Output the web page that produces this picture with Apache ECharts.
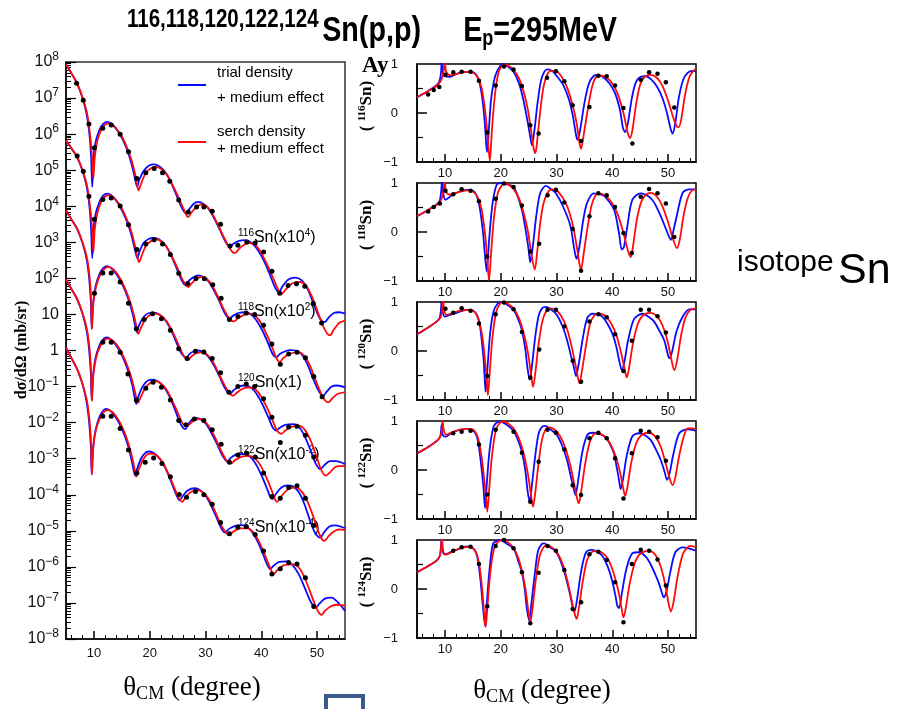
<!DOCTYPE html>
<html>
<head>
<meta charset="utf-8">
<script src="https://cdn.jsdelivr.net/npm/echarts@6/dist/echarts.min.js"></script>
<style>
  html, body { margin: 0; padding: 0; background: #fff; }
  #chart { width: 904px; height: 709px; }
</style>
</head>
<body>
<div id="chart"></div>
<script>
// Sn(p,p) at Ep = 295 MeV : cross sections (left) and analysing powers (right)

const isotopes = ['116', '118', '120', '122', '124'];
const scaleExps = [4, 2, 0, -2, -4]; // plotted as sigma x 10^n

// dσ/dΩ, stored as log10(mb/sr), pairs [theta_cm, log10 sigma]
const xs116Trial = [[5.0,3.94],[6.0,3.68],[7.0,3.40],[8.0,2.98],[8.7,2.55],[9.2,2.0],[9.5,1.35],[9.7,0.54],[9.9,1.3],[10.3,1.78],[11.0,2.12],[11.7,2.29],[12.4,2.34],[13.2,2.28],[14.0,2.14],[14.8,1.95],[15.6,1.7],[16.4,1.36],[17.0,1.02],[17.45,0.7],[17.75,0.54],[18.1,0.72],[18.9,0.98],[19.9,1.13],[20.8,1.16],[21.7,1.11],[22.6,0.98],[23.5,0.76],[24.5,0.42],[25.4,0.08],[26.1,-0.14],[26.6,-0.2],[27.1,-0.08],[27.9,0.07],[28.7,0.12],[29.6,0.07],[30.5,-0.06],[31.5,-0.32],[32.5,-0.63],[33.4,-0.93],[34.0,-1.08],[34.4,-1.13],[35.0,-1.04],[36.0,-0.96],[37.1,-0.94],[38.3,-1.02],[39.4,-1.22],[40.5,-1.52],[41.5,-1.88],[42.3,-2.2],[42.8,-2.34],[43.2,-2.38],[43.8,-2.22],[44.8,-2.04],[46.0,-1.98],[47.2,-2.05],[48.3,-2.3],[49.3,-2.68],[50.3,-3.05],[50.9,-3.19],[51.4,-3.21],[52.0,-3.1],[53.0,-2.96],[54.0,-2.94],[55.0,-2.98]];
const xs116Search = [[5.0,3.94],[6.0,3.68],[7.0,3.41],[8.0,3.0],[8.8,2.55],[9.3,2.0],[9.65,1.4],[9.9,0.77],[10.15,1.35],[10.6,1.8],[11.3,2.12],[12.0,2.26],[12.8,2.30],[13.6,2.23],[14.4,2.08],[15.2,1.88],[16.0,1.6],[16.8,1.25],[17.4,0.88],[17.8,0.55],[18.0,0.44],[18.4,0.6],[19.3,0.92],[20.3,1.06],[21.2,1.09],[22.0,1.04],[23.0,0.9],[24.0,0.62],[25.0,0.3],[26.0,-0.05],[26.6,-0.25],[26.9,-0.3],[27.4,-0.19],[28.3,-0.03],[29.3,0.05],[30.2,0.0],[31.2,-0.2],[32.2,-0.5],[33.2,-0.83],[34.2,-1.13],[34.9,-1.28],[35.3,-1.3],[36.0,-1.18],[37.0,-1.06],[38.0,-1.02],[39.0,-1.08],[40.0,-1.3],[41.0,-1.6],[42.0,-1.95],[43.0,-2.3],[43.6,-2.44],[44.3,-2.32],[45.5,-2.14],[46.9,-2.1],[48.0,-2.2],[49.0,-2.48],[50.0,-2.88],[51.0,-3.3],[51.8,-3.53],[52.3,-3.58],[53.0,-3.42],[54.0,-3.23],[55.0,-3.17]];
const xs116Data = [[6.9,3.41],[8.1,2.94],[9.1,2.28],[10.1,1.62],[11.6,2.16],[13.1,2.25],[14.7,2.0],[16.2,1.51],[17.7,0.77],[19.3,0.93],[20.8,1.05],[22.3,0.93],[23.6,0.69],[25.2,0.17],[26.9,-0.16],[28.4,-0.02],[29.7,-0.02],[31.2,-0.14],[32.7,-0.5],[34.4,-1.1],[35.8,-1.08],[37.4,-0.99],[38.9,-1.02],[40.4,-1.27],[41.9,-1.8],[43.3,-2.41],[44.8,-2.2],[46.3,-2.15],[47.8,-2.22],[49.3,-2.7],[50.8,-3.24]];

const xs118Trial = [[5.0,3.83],[6.0,3.6],[7.0,3.36],[8.0,2.96],[8.7,2.55],[9.2,2.0],[9.5,1.35],[9.7,0.56],[9.9,1.3],[10.3,1.78],[11.0,2.12],[11.7,2.3],[12.4,2.35],[13.2,2.29],[14.0,2.15],[14.8,1.95],[15.6,1.7],[16.4,1.37],[17.0,1.03],[17.5,0.7],[17.8,0.55],[18.15,0.73],[18.9,0.98],[19.9,1.1],[20.8,1.12],[21.7,1.08],[22.6,0.96],[23.5,0.74],[24.5,0.4],[25.4,0.06],[26.0,-0.13],[26.5,-0.19],[27.0,-0.07],[27.9,0.04],[28.7,0.08],[29.6,0.04],[30.5,-0.08],[31.5,-0.33],[32.5,-0.64],[33.3,-0.92],[33.9,-1.07],[34.3,-1.12],[34.9,-1.04],[35.9,-0.96],[37.1,-0.94],[38.3,-1.02],[39.3,-1.2],[40.3,-1.48],[41.3,-1.83],[42.1,-2.12],[42.7,-2.19],[43.3,-2.1],[44.3,-2.02],[45.2,-1.99],[46.1,-2.0],[47.2,-2.1],[48.2,-2.36],[49.2,-2.75],[50.2,-3.1],[50.7,-3.22],[51.1,-3.25],[51.7,-3.15],[52.6,-3.0],[53.6,-2.97],[55.0,-3.02]];
const xs118Search = [[5.0,3.83],[6.0,3.6],[7.0,3.37],[8.0,2.98],[8.8,2.55],[9.3,2.0],[9.65,1.45],[9.9,0.73],[10.15,1.35],[10.6,1.8],[11.3,2.12],[12.0,2.27],[12.8,2.31],[13.6,2.24],[14.4,2.09],[15.2,1.88],[16.0,1.6],[16.8,1.25],[17.4,0.88],[17.85,0.55],[18.1,0.45],[18.5,0.6],[19.3,0.9],[20.3,1.04],[21.2,1.08],[22.0,1.03],[23.0,0.88],[24.0,0.6],[25.0,0.28],[26.0,-0.07],[26.6,-0.2],[26.9,-0.24],[27.5,-0.14],[28.4,-0.01],[29.3,0.04],[30.2,-0.01],[31.2,-0.2],[32.2,-0.5],[33.2,-0.83],[34.2,-1.1],[34.8,-1.18],[35.1,-1.19],[35.8,-1.11],[36.9,-1.01],[38.0,-0.98],[39.0,-1.05],[40.0,-1.25],[41.0,-1.57],[42.0,-1.93],[42.8,-2.24],[43.3,-2.32],[43.9,-2.22],[45.0,-2.09],[46.8,-2.05],[47.8,-2.17],[48.8,-2.45],[49.8,-2.85],[50.8,-3.22],[51.5,-3.4],[52.0,-3.44],[52.7,-3.33],[53.7,-3.2],[55.0,-3.16]];
const xs118Data = [[7.0,3.39],[8.1,2.97],[9.1,2.28],[10.1,1.64],[11.6,2.19],[13.1,2.23],[14.7,2.01],[16.2,1.49],[17.7,0.8],[19.3,0.95],[20.8,1.07],[22.3,0.95],[23.7,0.66],[25.2,0.14],[26.8,-0.14],[28.3,0.0],[29.8,-0.01],[31.3,-0.18],[32.8,-0.55],[34.3,-1.14],[35.8,-1.06],[37.3,-0.96],[38.8,-1.0],[40.4,-1.3],[41.9,-1.82],[43.4,-2.38],[44.9,-2.1],[46.4,-2.05],[47.9,-2.2],[49.4,-2.72],[50.9,-3.28]];

const xs120Trial = [[5.0,3.89],[6.0,3.63],[7.0,3.37],[8.0,2.96],[8.7,2.53],[9.15,2.0],[9.45,1.35],[9.6,0.6],[9.85,1.3],[10.3,1.78],[11.0,2.12],[11.7,2.29],[12.4,2.34],[13.2,2.27],[14.0,2.12],[14.8,1.92],[15.6,1.66],[16.4,1.32],[17.0,0.98],[17.4,0.68],[17.7,0.51],[18.05,0.68],[18.9,0.93],[19.9,1.04],[20.8,1.05],[21.7,1.0],[22.6,0.88],[23.5,0.66],[24.5,0.33],[25.4,0.0],[26.1,-0.16],[26.6,-0.19],[27.1,-0.1],[27.9,-0.02],[28.7,0.0],[29.6,-0.05],[30.5,-0.17],[31.5,-0.41],[32.5,-0.72],[33.4,-1.02],[34.0,-1.16],[34.4,-1.2],[35.0,-1.11],[36.0,-1.0],[37.1,-0.97],[38.3,-1.05],[39.3,-1.24],[40.3,-1.52],[41.3,-1.87],[42.1,-2.15],[42.7,-2.22],[43.3,-2.14],[44.3,-2.06],[45.8,-2.04],[46.9,-2.15],[47.9,-2.42],[48.9,-2.8],[49.8,-3.15],[50.6,-3.29],[51.3,-3.18],[52.3,-3.07],[53.4,-3.07],[55.0,-3.15]];
const xs120Search = [[5.0,3.89],[6.0,3.63],[7.0,3.38],[8.0,2.98],[8.8,2.53],[9.25,2.0],[9.5,1.4],[9.65,0.6],[9.9,1.3],[10.4,1.78],[11.2,2.12],[12.0,2.28],[12.7,2.32],[13.5,2.25],[14.3,2.1],[15.1,1.88],[15.9,1.6],[16.7,1.25],[17.3,0.9],[17.75,0.55],[17.95,0.46],[18.35,0.6],[19.2,0.86],[20.2,1.0],[21.1,1.02],[22.0,0.97],[23.0,0.82],[24.0,0.55],[25.0,0.22],[26.0,-0.12],[26.6,-0.24],[26.9,-0.26],[27.5,-0.16],[28.4,-0.07],[29.3,-0.05],[30.2,-0.1],[31.2,-0.28],[32.2,-0.58],[33.2,-0.9],[34.2,-1.17],[34.7,-1.24],[35.0,-1.25],[35.7,-1.16],[36.8,-1.05],[38.0,-1.02],[39.0,-1.09],[40.0,-1.28],[41.0,-1.58],[42.0,-1.93],[42.9,-2.24],[43.6,-2.31],[44.3,-2.22],[45.5,-2.11],[46.8,-2.09],[47.8,-2.2],[48.8,-2.48],[49.8,-2.9],[50.8,-3.33],[51.6,-3.47],[52.3,-3.38],[53.4,-3.22],[55.0,-3.2]];
const xs120Data = [[10.1,1.59],[11.6,2.15],[13.1,2.15],[14.7,1.9],[16.2,1.31],[17.6,0.6],[19.0,0.86],[20.5,1.02],[22.1,0.88],[23.7,0.56],[25.2,0.05],[26.7,-0.22],[28.2,-0.02],[29.7,-0.04],[31.2,-0.22],[32.7,-0.62],[34.2,-1.16],[35.8,-1.0],[37.3,-0.93],[38.8,-1.0],[40.4,-1.34],[41.9,-1.85],[43.4,-2.55],[44.9,-2.12],[46.4,-2.1],[47.9,-2.35],[49.4,-2.95]];

const xs122Trial = [[5.0,3.97],[6.0,3.7],[7.0,3.42],[8.0,3.0],[8.7,2.55],[9.15,2.0],[9.45,1.35],[9.6,0.63],[9.85,1.3],[10.3,1.8],[11.0,2.14],[11.6,2.3],[12.3,2.36],[13.1,2.3],[13.9,2.16],[14.7,1.96],[15.5,1.7],[16.3,1.36],[16.9,1.02],[17.3,0.7],[17.6,0.52],[17.95,0.72],[18.8,1.02],[19.7,1.17],[20.6,1.19],[21.5,1.14],[22.4,1.02],[23.3,0.8],[24.3,0.45],[25.2,0.08],[25.9,-0.13],[26.4,-0.18],[26.9,-0.05],[27.6,0.09],[28.3,0.13],[29.2,0.09],[30.1,-0.04],[31.1,-0.3],[32.1,-0.6],[33.0,-0.91],[33.6,-1.04],[33.9,-1.08],[34.5,-0.98],[35.6,-0.88],[37.0,-0.87],[38.2,-0.98],[39.2,-1.2],[40.2,-1.52],[41.2,-1.9],[41.6,-2.06],[42.0,-2.12],[42.6,-1.98],[43.6,-1.8],[44.7,-1.74],[45.6,-1.76],[46.7,-1.92],[47.7,-2.25],[48.7,-2.7],[49.6,-3.05],[50.2,-3.17],[50.6,-3.19],[51.2,-3.05],[52.2,-2.88],[53.3,-2.85],[55.0,-2.93]];
const xs122Search = [[5.0,3.97],[6.0,3.7],[7.0,3.43],[8.0,3.02],[8.8,2.55],[9.25,2.0],[9.5,1.4],[9.65,0.6],[9.9,1.3],[10.4,1.8],[11.2,2.14],[12.0,2.3],[12.7,2.33],[13.5,2.26],[14.3,2.12],[15.1,1.9],[15.9,1.62],[16.7,1.26],[17.3,0.9],[17.7,0.62],[17.9,0.55],[18.3,0.68],[19.2,0.96],[20.1,1.1],[21.0,1.15],[21.9,1.1],[22.9,0.94],[23.9,0.66],[24.9,0.32],[25.9,-0.02],[26.4,-0.09],[26.7,-0.1],[27.3,-0.02],[28.1,0.08],[28.9,0.1],[29.8,0.04],[30.8,-0.14],[31.8,-0.44],[32.8,-0.78],[33.8,-1.06],[34.3,-1.12],[34.6,-1.13],[35.3,-1.04],[36.5,-0.94],[37.8,-0.92],[38.9,-1.0],[39.9,-1.2],[40.9,-1.52],[41.9,-1.9],[42.5,-2.14],[42.8,-2.2],[43.4,-2.08],[44.4,-1.9],[45.4,-1.81],[46.3,-1.8],[47.3,-1.92],[48.3,-2.2],[49.3,-2.6],[50.3,-3.05],[50.9,-3.24],[51.3,-3.28],[52.0,-3.16],[53.0,-3.02],[54.0,-2.96],[55.0,-2.98]];
const xs122Data = [[11.6,2.23],[13.1,2.23],[14.7,1.95],[16.1,1.35],[17.6,0.63],[19.3,0.95],[20.6,1.12],[22.1,0.98],[23.7,0.63],[25.2,0.06],[26.5,-0.06],[28.0,0.1],[29.7,0.06],[31.2,-0.2],[32.8,-0.6],[34.3,-1.1],[35.8,-0.9],[37.4,-0.85],[38.9,-0.95],[40.4,-1.4],[41.9,-2.05],[43.4,-2.1],[44.9,-1.8],[46.4,-1.75],[47.9,-2.1],[49.4,-2.85]];

const xs124Trial = [[5.0,4.08],[6.0,3.78],[7.0,3.48],[8.0,3.04],[8.7,2.57],[9.15,2.0],[9.45,1.35],[9.6,0.58],[9.85,1.3],[10.3,1.8],[11.0,2.16],[11.6,2.32],[12.2,2.38],[13.0,2.32],[13.8,2.17],[14.6,1.96],[15.4,1.68],[16.2,1.32],[16.7,1.0],[17.1,0.7],[17.4,0.53],[17.75,0.72],[18.5,1.02],[19.3,1.17],[19.9,1.2],[20.8,1.15],[21.8,1.0],[22.8,0.74],[23.8,0.38],[24.7,0.02],[25.1,-0.11],[25.4,-0.15],[25.9,-0.04],[26.8,0.12],[28.1,0.18],[29.0,0.13],[30.0,-0.02],[31.0,-0.3],[32.0,-0.64],[32.8,-0.92],[33.2,-1.02],[33.5,-1.05],[34.1,-0.96],[35.2,-0.87],[36.2,-0.84],[37.1,-0.86],[38.2,-1.0],[39.2,-1.25],[40.2,-1.6],[41.0,-1.92],[41.6,-2.06],[42.2,-1.97],[43.2,-1.86],[44.5,-1.85],[45.6,-1.95],[46.7,-2.2],[47.7,-2.55],[48.7,-2.92],[49.4,-3.1],[49.8,-3.13],[50.4,-3.02],[51.4,-2.88],[52.6,-2.85],[53.7,-2.98],[55.0,-3.22]];
const xs124Search = [[5.0,4.08],[6.0,3.78],[7.0,3.49],[8.0,3.06],[8.8,2.57],[9.25,2.0],[9.5,1.4],[9.65,0.55],[9.9,1.3],[10.4,1.82],[11.2,2.16],[11.9,2.31],[12.6,2.35],[13.4,2.28],[14.2,2.12],[15.0,1.9],[15.8,1.6],[16.6,1.2],[17.1,0.86],[17.45,0.6],[17.6,0.5],[17.95,0.66],[18.8,0.97],[19.6,1.12],[20.4,1.14],[21.3,1.08],[22.3,0.9],[23.3,0.6],[24.3,0.24],[25.1,-0.06],[25.5,-0.16],[25.8,-0.2],[26.4,-0.08],[27.3,0.07],[28.6,0.13],[29.6,0.06],[30.6,-0.12],[31.6,-0.42],[32.6,-0.78],[33.5,-1.02],[34.0,-1.1],[34.3,-1.11],[35.0,-1.02],[36.3,-0.93],[37.6,-0.93],[38.6,-1.05],[39.6,-1.3],[40.6,-1.65],[41.5,-2.0],[41.9,-2.14],[42.2,-2.2],[42.8,-2.1],[44.0,-1.96],[45.8,-1.93],[46.9,-2.05],[47.9,-2.35],[48.9,-2.75],[49.8,-3.12],[50.4,-3.29],[50.8,-3.33],[51.4,-3.22],[52.4,-3.1],[53.5,-3.05],[55.0,-3.08]];
const xs124Data = [[11.6,2.18],[13.1,2.18],[14.7,1.84],[16.2,1.24],[17.7,0.6],[19.2,0.9],[20.7,1.02],[22.2,0.87],[23.7,0.5],[25.3,0.01],[26.6,-0.07],[28.2,0.09],[29.7,0.0],[31.2,-0.26],[32.7,-0.77],[34.3,-1.08],[35.8,-0.9],[37.3,-0.88],[38.9,-1.1],[40.4,-1.56],[41.9,-2.2],[43.4,-2.05],[44.9,-1.88],[46.4,-1.92],[47.9,-2.3],[49.4,-3.1]];

// analysing power Ay, pairs [theta_cm, Ay]
const ay116Trial = [[5.0,0.32],[7.0,0.45],[8.5,0.57],[9.0,0.64],[9.3,0.82],[9.45,1.1],[9.6,0.85],[9.9,0.75],[10.9,0.74],[12.1,0.8],[13.9,0.84],[15.1,0.83],[15.9,0.72],[16.5,0.45],[17.0,0.0],[17.3,-0.45],[17.55,-0.8],[17.9,-0.3],[18.3,0.3],[19.0,0.75],[19.9,0.96],[20.5,1.0],[21.3,0.95],[22.3,0.84],[23.3,0.6],[24.0,0.3],[24.7,-0.1],[25.2,-0.42],[25.6,-0.66],[26.1,-0.3],[26.6,0.2],[27.2,0.65],[27.8,0.84],[28.4,0.89],[29.2,0.86],[30.3,0.72],[31.3,0.55],[32.3,0.25],[33.0,-0.1],[33.5,-0.45],[33.8,-0.55],[34.3,-0.3],[35.0,0.2],[35.8,0.6],[36.7,0.76],[37.5,0.78],[38.5,0.72],[39.5,0.6],[40.5,0.4],[41.4,0.05],[41.9,-0.3],[42.3,-0.39],[42.8,-0.2],[43.5,0.3],[44.2,0.62],[45.1,0.74],[46.0,0.75],[47.0,0.68],[48.1,0.52],[49.0,0.3],[49.8,0.0],[50.4,-0.3],[50.8,-0.42],[51.3,-0.2],[51.9,0.3],[52.7,0.68],[53.5,0.82],[54.3,0.86],[55.0,0.85]];
const ay116Search = [[5.0,0.32],[7.0,0.45],[8.5,0.55],[9.3,0.66],[9.75,0.85],[10.0,1.08],[10.2,0.85],[10.9,0.77],[12.1,0.8],[13.9,0.84],[15.1,0.82],[15.9,0.72],[16.6,0.5],[17.2,0.05],[17.6,-0.4],[18.05,-0.97],[18.4,-0.4],[18.9,0.3],[19.6,0.82],[20.5,0.98],[21.3,0.97],[22.3,0.88],[23.3,0.7],[24.2,0.4],[24.9,0.05],[25.5,-0.4],[25.9,-0.72],[26.2,-0.82],[26.6,-0.5],[27.1,0.05],[27.7,0.55],[28.4,0.8],[29.1,0.86],[29.8,0.86],[30.8,0.76],[31.8,0.55],[32.8,0.2],[33.6,-0.2],[34.1,-0.6],[34.4,-0.73],[34.8,-0.5],[35.5,0.0],[36.3,0.5],[37.0,0.72],[37.9,0.76],[39.0,0.72],[40.0,0.6],[41.0,0.38],[42.0,0.0],[42.8,-0.42],[43.2,-0.51],[43.6,-0.35],[44.3,0.2],[45.0,0.58],[45.8,0.74],[46.8,0.78],[48.0,0.72],[49.0,0.55],[50.0,0.25],[50.8,-0.05],[51.5,-0.26],[51.9,-0.29],[52.4,-0.1],[53.0,0.35],[53.8,0.73],[54.5,0.86],[55.0,0.9]];
const ay116Data = [[7.0,0.38],[8.0,0.47],[9.0,0.53],[10.1,0.78],[11.5,0.83],[13.0,0.84],[14.6,0.84],[16.1,0.66],[17.6,-0.4],[19.1,0.56],[20.6,0.95],[22.3,0.89],[23.8,0.55],[25.3,-0.25],[26.8,-0.42],[28.3,0.72],[29.9,0.85],[31.4,0.65],[32.9,0.16],[34.4,-0.57],[35.9,0.12],[37.5,0.76],[39.0,0.75],[40.5,0.56],[42.0,0.1],[43.6,-0.62],[45.1,0.68],[46.6,0.83],[48.1,0.8],[49.6,0.63],[51.1,0.11]];

const ay118Trial = [[5.0,0.32],[7.0,0.45],[8.5,0.56],[9.05,0.63],[9.35,0.85],[9.5,1.1],[9.7,0.8],[10.1,0.66],[11.5,0.77],[13.9,0.86],[15.3,0.82],[16.0,0.63],[16.5,0.3],[16.9,-0.09],[17.2,-0.5],[17.5,-0.81],[17.9,-0.2],[18.5,0.55],[19.3,0.97],[20.2,1.0],[21.2,0.97],[22.3,0.92],[23.2,0.68],[23.9,0.4],[24.6,-0.05],[25.0,-0.36],[25.3,-0.62],[25.8,-0.25],[26.4,0.35],[27.1,0.8],[28.1,0.94],[29.0,0.88],[29.9,0.79],[31.3,0.49],[32.5,0.12],[33.2,-0.36],[33.6,-0.55],[34.1,-0.3],[34.8,0.25],[35.5,0.6],[36.7,0.79],[38.0,0.76],[38.7,0.72],[40.3,0.46],[41.2,-0.02],[41.7,-0.36],[42.1,-0.3],[42.7,0.12],[43.6,0.66],[45.1,0.79],[46.6,0.72],[47.5,0.6],[48.7,0.32],[49.9,-0.02],[50.5,-0.16],[51.0,0.05],[51.4,0.25],[52.6,0.8],[53.8,0.87],[55.0,0.87]];
const ay118Search = [[5.0,0.32],[7.0,0.45],[8.5,0.55],[9.3,0.65],[9.75,0.85],[10.0,1.08],[10.2,0.82],[10.9,0.76],[12.1,0.8],[13.9,0.85],[15.1,0.82],[15.9,0.7],[16.6,0.45],[17.2,-0.05],[17.6,-0.55],[17.9,-0.98],[18.3,-0.4],[18.8,0.3],[19.5,0.8],[20.3,0.97],[20.8,1.0],[21.5,0.96],[22.3,0.88],[23.3,0.68],[24.2,0.35],[24.9,0.0],[25.5,-0.45],[26.1,-0.77],[26.5,-0.45],[27.0,0.1],[27.6,0.55],[28.4,0.8],[29.2,0.87],[30.0,0.85],[31.0,0.72],[32.0,0.5],[33.0,0.1],[33.7,-0.35],[34.2,-0.7],[34.4,-0.77],[34.8,-0.5],[35.5,0.05],[36.3,0.55],[37.0,0.75],[37.6,0.79],[38.8,0.74],[40.0,0.58],[41.0,0.35],[42.0,-0.02],[42.8,-0.38],[43.3,-0.51],[43.7,-0.3],[44.4,0.25],[45.2,0.62],[46.0,0.76],[46.9,0.8],[48.0,0.72],[49.0,0.52],[50.0,0.2],[50.9,-0.15],[51.6,-0.33],[52.1,-0.15],[52.8,0.35],[53.6,0.72],[54.4,0.86],[55.0,0.87]];
const ay118Data = [[7.0,0.42],[8.0,0.51],[9.1,0.58],[10.1,0.84],[11.5,0.77],[13.0,0.87],[14.6,0.84],[16.1,0.63],[17.6,-0.5],[19.1,0.68],[20.6,0.99],[22.3,0.92],[23.8,0.54],[25.3,-0.4],[26.9,-0.24],[28.4,0.75],[29.9,0.86],[31.4,0.6],[32.9,0.06],[34.4,-0.79],[35.9,0.32],[37.5,0.79],[39.0,0.75],[40.5,0.51],[42.0,-0.02],[43.5,-0.43],[45.1,0.72],[46.6,0.88],[48.1,0.79],[49.6,0.58],[51.1,-0.1]];

const ay120Trial = [[5.0,0.34],[7.0,0.48],[8.5,0.6],[9.05,0.67],[9.3,0.85],[9.45,1.1],[9.6,0.82],[10.0,0.7],[11.0,0.74],[12.1,0.78],[13.9,0.84],[15.1,0.82],[15.8,0.72],[16.3,0.5],[16.9,-0.12],[17.1,-0.5],[17.3,-0.83],[17.6,-0.4],[18.1,0.35],[18.7,0.8],[19.4,0.96],[20.2,1.0],[21.2,0.94],[22.3,0.84],[23.3,0.6],[23.8,0.43],[24.4,0.05],[24.8,-0.35],[25.2,-0.59],[25.6,-0.3],[26.2,0.3],[26.8,0.72],[27.4,0.87],[28.1,0.9],[29.1,0.84],[30.1,0.73],[31.1,0.5],[31.9,0.22],[32.6,-0.1],[33.1,-0.32],[33.5,-0.51],[34.0,-0.25],[34.7,0.25],[35.5,0.67],[36.4,0.76],[37.4,0.75],[38.2,0.7],[39.1,0.56],[40.0,0.36],[40.7,0.1],[41.2,-0.18],[41.7,-0.39],[42.2,-0.2],[42.8,0.2],[43.9,0.65],[45.4,0.76],[46.5,0.7],[47.5,0.6],[48.4,0.42],[49.3,0.22],[49.8,0.0],[50.2,-0.15],[50.7,-0.02],[51.5,0.4],[52.6,0.7],[53.8,0.85],[55.0,0.85]];
const ay120Search = [[5.0,0.34],[7.0,0.48],[8.5,0.6],[9.2,0.68],[9.55,0.85],[9.7,1.08],[9.85,0.85],[10.3,0.74],[11.5,0.78],[13.0,0.83],[14.5,0.84],[15.3,0.8],[16.0,0.66],[16.7,0.3],[17.2,-0.2],[17.5,-0.6],[17.7,-0.9],[18.0,-0.5],[18.5,0.25],[19.2,0.8],[19.9,0.97],[20.5,1.0],[21.3,0.96],[22.3,0.87],[23.3,0.66],[24.2,0.33],[24.9,-0.05],[25.4,-0.45],[25.8,-0.73],[26.2,-0.45],[26.8,0.15],[27.5,0.62],[28.2,0.82],[28.9,0.87],[29.8,0.84],[30.8,0.72],[31.8,0.48],[32.7,0.1],[33.4,-0.28],[33.9,-0.58],[34.1,-0.66],[34.5,-0.45],[35.2,0.05],[36.0,0.55],[36.8,0.73],[37.6,0.76],[38.7,0.72],[39.8,0.56],[40.8,0.3],[41.7,-0.1],[42.3,-0.42],[42.6,-0.54],[43.0,-0.35],[43.7,0.15],[44.6,0.56],[45.6,0.74],[46.9,0.78],[48.0,0.71],[49.0,0.52],[49.9,0.2],[50.6,-0.18],[51.1,-0.39],[51.6,-0.2],[52.3,0.3],[53.1,0.68],[54.0,0.84],[55.0,0.87]];
const ay120Data = [[10.1,0.86],[11.5,0.78],[13.0,0.87],[14.6,0.82],[16.1,0.56],[17.6,-0.51],[19.1,0.75],[20.6,0.99],[22.3,0.85],[23.8,0.39],[25.3,-0.54],[26.9,0.03],[28.4,0.84],[29.9,0.84],[31.4,0.5],[32.9,-0.2],[34.4,-0.63],[35.9,0.6],[37.5,0.75],[39.0,0.69],[40.5,0.34],[42.0,-0.41],[43.5,0.21],[45.1,0.84],[46.6,0.84],[48.1,0.71],[49.6,0.38]];

const ay122Trial = [[5.0,0.34],[7.0,0.47],[8.7,0.61],[9.2,0.7],[9.4,0.92],[9.6,0.72],[10.1,0.68],[11.6,0.78],[13.9,0.84],[15.3,0.78],[15.9,0.6],[16.4,0.2],[16.9,-0.34],[17.2,-0.78],[17.5,-0.3],[18.0,0.4],[18.7,0.88],[19.3,0.97],[19.9,0.99],[21.0,0.93],[22.3,0.8],[23.3,0.55],[23.8,0.37],[24.4,0.0],[24.8,-0.41],[25.2,-0.65],[25.6,-0.3],[26.2,0.3],[26.8,0.75],[27.4,0.88],[28.0,0.9],[29.0,0.82],[30.1,0.71],[31.0,0.5],[31.9,0.2],[32.6,-0.15],[33.0,-0.34],[33.4,-0.51],[33.9,-0.2],[34.6,0.35],[35.5,0.71],[36.4,0.76],[37.5,0.74],[38.8,0.67],[39.7,0.5],[40.3,0.34],[40.8,0.05],[41.2,-0.2],[41.5,-0.39],[41.9,-0.2],[42.6,0.3],[43.6,0.69],[44.8,0.75],[46.0,0.7],[46.9,0.61],[47.9,0.4],[48.7,0.2],[49.4,-0.05],[49.8,-0.2],[50.3,-0.05],[50.9,0.3],[52.0,0.75],[53.5,0.83],[55.0,0.8]];
const ay122Search = [[5.0,0.34],[7.0,0.47],[8.7,0.61],[9.3,0.72],[9.5,0.9],[9.6,1.08],[9.75,0.85],[10.2,0.72],[11.5,0.78],[13.0,0.83],[14.5,0.84],[15.3,0.8],[16.0,0.63],[16.6,0.25],[17.1,-0.25],[17.4,-0.6],[17.6,-0.85],[17.9,-0.45],[18.4,0.25],[19.1,0.8],[19.8,0.96],[20.5,0.99],[21.3,0.95],[22.3,0.85],[23.3,0.63],[24.2,0.3],[24.9,-0.1],[25.4,-0.48],[25.8,-0.75],[26.2,-0.45],[26.8,0.15],[27.4,0.62],[28.0,0.82],[28.6,0.87],[29.6,0.83],[30.6,0.7],[31.6,0.45],[32.5,0.08],[33.2,-0.3],[33.7,-0.58],[34.0,-0.68],[34.4,-0.45],[35.1,0.1],[35.9,0.55],[36.6,0.72],[37.3,0.75],[38.5,0.7],[39.6,0.54],[40.6,0.28],[41.5,-0.1],[42.0,-0.4],[42.3,-0.53],[42.7,-0.35],[43.4,0.15],[44.3,0.55],[45.3,0.72],[46.6,0.76],[47.7,0.68],[48.7,0.47],[49.6,0.12],[50.3,-0.18],[50.8,-0.31],[51.3,-0.15],[52.0,0.3],[52.8,0.68],[53.5,0.85],[54.3,0.85],[55.0,0.83]];
const ay122Data = [[11.5,0.75],[13.0,0.78],[14.6,0.8],[16.1,0.52],[17.6,-0.5],[19.1,0.82],[22.3,0.78],[23.8,0.35],[25.3,-0.65],[26.8,0.17],[28.4,0.82],[29.9,0.76],[31.4,0.42],[32.9,-0.31],[34.4,-0.51],[35.9,0.65],[37.5,0.76],[39.0,0.65],[40.5,0.24],[42.0,-0.58],[43.5,0.34],[45.1,0.8],[46.6,0.78],[48.1,0.67],[49.6,0.19]];

const ay124Trial = [[5.0,0.34],[7.0,0.47],[8.5,0.58],[9.1,0.68],[9.3,0.9],[9.45,1.05],[9.6,0.78],[10.0,0.71],[11.5,0.78],[12.1,0.8],[13.9,0.87],[15.3,0.8],[15.9,0.6],[16.4,0.15],[16.8,-0.34],[17.2,-0.75],[17.5,-0.3],[18.0,0.4],[18.6,0.92],[19.3,0.98],[19.9,1.0],[21.0,0.93],[22.3,0.83],[23.2,0.55],[23.8,0.34],[24.3,0.0],[24.7,-0.41],[25.1,-0.64],[25.5,-0.3],[26.1,0.3],[26.7,0.78],[27.4,0.92],[27.8,0.93],[28.8,0.85],[29.8,0.78],[30.8,0.55],[31.6,0.27],[32.4,-0.1],[32.9,-0.37],[33.2,-0.47],[33.7,-0.2],[34.4,0.35],[35.3,0.75],[36.4,0.8],[37.4,0.75],[38.2,0.68],[39.2,0.45],[39.9,0.2],[40.5,-0.1],[40.9,-0.34],[41.2,-0.39],[41.7,-0.1],[42.5,0.4],[43.6,0.73],[44.8,0.75],[46.0,0.66],[46.7,0.54],[47.7,0.3],[48.4,0.1],[48.9,-0.08],[49.2,-0.17],[49.7,-0.05],[50.4,0.35],[51.3,0.75],[52.6,0.85],[54.0,0.82],[55.0,0.78]];
const ay124Search = [[5.0,0.34],[7.0,0.47],[8.5,0.58],[9.15,0.7],[9.35,0.9],[9.5,1.08],[9.65,0.8],[10.1,0.7],[11.5,0.77],[13.0,0.84],[14.5,0.86],[15.3,0.8],[16.0,0.6],[16.5,0.2],[16.9,-0.3],[17.1,-0.6],[17.3,-0.78],[17.6,-0.4],[18.1,0.3],[18.8,0.82],[19.6,0.97],[20.4,1.0],[21.2,0.96],[22.2,0.85],[23.1,0.65],[23.9,0.32],[24.5,-0.05],[24.9,-0.4],[25.3,-0.68],[25.7,-0.4],[26.3,0.2],[27.0,0.68],[27.7,0.85],[28.3,0.89],[29.2,0.85],[30.2,0.73],[31.2,0.48],[32.1,0.1],[32.8,-0.28],[33.3,-0.52],[33.6,-0.61],[34.0,-0.4],[34.7,0.15],[35.5,0.6],[36.3,0.75],[37.0,0.78],[38.2,0.74],[39.3,0.6],[40.3,0.3],[41.2,-0.1],[41.7,-0.42],[42.0,-0.58],[42.4,-0.4],[43.1,0.1],[44.0,0.52],[45.0,0.72],[46.6,0.78],[47.7,0.7],[48.7,0.45],[49.5,0.08],[50.1,-0.3],[50.5,-0.46],[51.0,-0.25],[51.7,0.25],[52.6,0.7],[53.4,0.84],[54.1,0.88],[55.0,0.85]];
const ay124Data = [[11.5,0.78],[13.0,0.85],[14.6,0.86],[16.1,0.51],[17.6,-0.35],[19.1,0.88],[20.6,1.0],[22.3,0.83],[23.8,0.34],[25.3,-0.7],[26.8,0.33],[28.4,0.88],[29.9,0.78],[31.4,0.39],[32.9,-0.41],[34.4,-0.27],[35.9,0.71],[37.5,0.76],[39.0,0.59],[40.5,0.14],[42.0,-0.68],[43.5,0.51],[45.1,0.8],[46.6,0.78],[48.1,0.6],[49.6,0.07]];

const xsTrial = [xs116Trial, xs118Trial, xs120Trial, xs122Trial, xs124Trial];
const xsSearch = [xs116Search, xs118Search, xs120Search, xs122Search, xs124Search];
const xsData = [xs116Data, xs118Data, xs120Data, xs122Data, xs124Data];
const ayTrial = [ay116Trial, ay118Trial, ay120Trial, ay122Trial, ay124Trial];
const aySearch = [ay116Search, ay118Search, ay120Search, ay122Search, ay124Search];
const ayData = [ay116Data, ay118Data, ay120Data, ay122Data, ay124Data];

// tick positions
const majorDeg = [10, 20, 30, 40, 50];
const minorDeg = [6, 8, 12, 14, 16, 18, 22, 24, 26, 28, 32, 34, 36, 38, 42, 44, 46, 48, 52, 54];
const decades = [];
const subDecades = [];
for (let e = -8; e <= 8; e++) {
  decades.push(Number('1e' + e));
  if (e < 8) for (let k = 2; k <= 9; k++) subDecades.push(Number(k + 'e' + e));
}

const BLUE = '#0a0aff';
const RED = '#ff0a0a';
const SANS = '"Liberation Sans", Arial, Helvetica, sans-serif';
const SERIF = '"Liberation Serif", "Times New Roman", serif';

const chart = echarts.init(document.getElementById('chart'), null, { renderer: 'canvas' });

const rightTops = [64, 183, 302, 421, 540];
const grids = [{ left: 66, top: 62, width: 279, height: 577, show: true, borderColor: '#333', borderWidth: 1.5 }];
rightTops.forEach(t => grids.push({ left: 417, top: t, width: 279, height: 98, show: true, borderColor: '#000', borderWidth: 1.5 }));

const xAxes = [];
const yAxes = [];

function addDegAxes(gi, labelSize, labelMargin) {
  xAxes.push({
    gridIndex: gi, type: 'value', min: 5, max: 55, position: 'bottom',
    axisLine: { onZero: false, lineStyle: { color: '#000', width: 1.5 } },
    axisTick: { inside: true, length: 8, customValues: majorDeg, lineStyle: { color: '#000', width: 1.5 } },
    axisLabel: { customValues: majorDeg, fontFamily: SANS, fontSize: labelSize, color: '#111', margin: labelMargin },
    splitLine: { show: false }
  });
  xAxes.push({
    gridIndex: gi, type: 'value', min: 5, max: 55, position: 'bottom',
    axisLine: { show: false, onZero: false },
    axisTick: { inside: true, length: 4, customValues: minorDeg, lineStyle: { color: '#000', width: 1 } },
    axisLabel: { show: false }, splitLine: { show: false }
  });
}

addDegAxes(0, 13, 8);
yAxes.push({
  gridIndex: 0, type: 'log', logBase: 10, min: 1e-8, max: 1e8, position: 'left',
  axisLine: { onZero: false, lineStyle: { color: '#000', width: 1.5 } },
  axisTick: { inside: true, length: 10, customValues: decades, lineStyle: { color: '#000', width: 1.2 } },
  axisLabel: {
    customValues: decades, margin: 7, color: '#111',
    formatter: v => {
      const e = Math.round(Math.log10(v));
      if (e === 0) return '{b|1}';
      if (e === 1) return '{b|10}';
      return '{b|10}{s|' + (e < 0 ? '\u2212' + (-e) : e) + '}';
    },
    rich: {
      b: { fontFamily: SANS, fontSize: 16, lineHeight: 22, color: '#111' },
      s: { fontFamily: SANS, fontSize: 12, lineHeight: 12, verticalAlign: 'top', color: '#111' }
    }
  },
  splitLine: { show: false }
});
yAxes.push({
  gridIndex: 0, type: 'log', logBase: 10, min: 1e-8, max: 1e8, position: 'left',
  axisLine: { show: false, onZero: false },
  axisTick: { inside: true, length: 5, customValues: subDecades, lineStyle: { color: '#000', width: 1 } },
  axisLabel: { show: false }, splitLine: { show: false }
});

for (let k = 1; k <= 5; k++) {
  addDegAxes(k, 13, 5);
  yAxes.push({
    gridIndex: k, type: 'value', min: -1, max: 1, position: 'left',
    axisLine: { onZero: false, lineStyle: { color: '#000', width: 1.5 } },
    axisTick: { inside: true, length: 10, customValues: [0], lineStyle: { color: '#000', width: 1.5 } },
    axisLabel: {
      customValues: [-1, 0, 1], margin: 19, fontFamily: SANS, fontSize: 13, color: '#111',
      formatter: v => (v < 0 ? '\u22121' : String(v))
    },
    splitLine: { show: false }
  });
  yAxes.push({
    gridIndex: k, type: 'value', min: -1, max: 1, position: 'left',
    axisLine: { show: false, onZero: false },
    axisTick: { inside: true, length: 6, customValues: [-0.5, 0.5], lineStyle: { color: '#000', width: 1.2 } },
    axisLabel: { show: false }, splitLine: { show: false }
  });
}

function curve(data, color, ai) {
  return {
    type: 'line', xAxisIndex: ai, yAxisIndex: ai, data: data,
    symbol: 'none', smooth: 0.3, clip: true, silent: true,
    lineStyle: { color: color, width: 1.8 }
  };
}
function dots(data, ai, size) {
  return {
    type: 'scatter', xAxisIndex: ai, yAxisIndex: ai, data: data,
    symbol: 'circle', symbolSize: size, silent: true, z: 5,
    itemStyle: { color: '#000', opacity: 1 }
  };
}

const series = [];
isotopes.forEach((iso, i) => {
  const toPlot = arr => arr.map(p => [p[0], Math.pow(10, p[1] + scaleExps[i])]);
  series.push(curve(toPlot(xsTrial[i]), BLUE, 0));
  series.push(curve(toPlot(xsSearch[i]), RED, 0));
  series.push(dots(toPlot(xsData[i]), 0, 5));
  const ai = 2 * (i + 1);
  series.push(curve(ayTrial[i], BLUE, ai));
  series.push(curve(aySearch[i], RED, ai));
  series.push(dots(ayData[i], ai, 4.5));
});

// text overlays
const graphic = [];
const txt = (x, y, text, style, extra) => graphic.push(Object.assign({
  type: 'text', x: x, y: y, silent: true,
  style: Object.assign({ text: text, fill: '#000' }, style)
}, extra || {}));

// title (bold sans squeezed to look condensed)
const squeeze = { scaleX: 0.82 };
txt(127, 20, '116,118,120,122,124', { fontFamily: SANS, fontWeight: 'bold', fontSize: 25, align: 'left', verticalAlign: 'middle' }, squeeze);
txt(421, 31, 'Sn(p,p)', { fontFamily: SANS, fontWeight: 'bold', fontSize: 35, align: 'right', verticalAlign: 'middle' }, squeeze);
txt(617, 31, '{m|E}{u|p}{m|=295MeV}', {
  align: 'right', verticalAlign: 'middle',
  rich: {
    m: { fontFamily: SANS, fontWeight: 'bold', fontSize: 35, lineHeight: 38 },
    u: { fontFamily: SANS, fontWeight: 'bold', fontSize: 22, lineHeight: 20, verticalAlign: 'bottom' }
  }
}, squeeze);

// legend
graphic.push({ type: 'line', silent: true, shape: { x1: 178, y1: 85, x2: 206, y2: 85 }, style: { stroke: BLUE, lineWidth: 2 } });
graphic.push({ type: 'line', silent: true, shape: { x1: 178, y1: 142, x2: 206, y2: 142 }, style: { stroke: RED, lineWidth: 2 } });
const legStyle = { fontFamily: SANS, fontSize: 15, align: 'left', verticalAlign: 'middle' };
txt(217, 73, 'trial density', legStyle);
txt(217, 98, '+ medium effect', legStyle);
txt(217, 132, 'serch density', legStyle);
txt(217, 149, '+ medium effect', legStyle);

// curve labels
const labelRich = {
  s: { fontFamily: SANS, fontSize: 10, lineHeight: 10, verticalAlign: 'top' },
  b: { fontFamily: SANS, fontSize: 16, lineHeight: 20 }
};
const scaleText = ['{b|(x10}{s|4}{b|)}', '{b|(x10}{s|2}{b|)}', '{b|(x1)}', '{b|(x10}{s|-2}{b|)}', '{b|(x10}{s|-4}{b|)}'];
const labelY = [238, 312, 383, 455, 528];
isotopes.forEach((iso, i) => {
  txt(238, labelY[i], '{s|' + iso + '}{b|Sn}' + scaleText[i], { align: 'left', verticalAlign: 'middle', rich: labelRich });
});

// left y-axis title
txt(22, 350, 'd\u03c3/d\u03a9 (mb/sr)', { fontFamily: SERIF, fontWeight: 'bold', fontSize: 16, align: 'center', verticalAlign: 'middle' }, { rotation: Math.PI / 2 });

// x-axis titles
const thetaRich = {
  t: { fontFamily: SERIF, fontSize: 27, lineHeight: 30 },
  c: { fontFamily: SERIF, fontSize: 18, lineHeight: 14, verticalAlign: 'bottom' }
};
txt(192, 688, '{t|\u03b8}{c|CM}{t| (degree)}', { align: 'center', verticalAlign: 'middle', rich: thetaRich });
txt(542, 691, '{t|\u03b8}{c|CM}{t| (degree)}', { align: 'center', verticalAlign: 'middle', rich: thetaRich });

// Ay panels labels
txt(362, 66, 'Ay', { fontFamily: SERIF, fontWeight: 'bold', fontSize: 23, align: 'left', verticalAlign: 'middle' });
const ayRich = {
  p: { fontFamily: SERIF, fontWeight: 'bold', fontSize: 17, lineHeight: 20 },
  s: { fontFamily: SERIF, fontWeight: 'bold', fontSize: 11, lineHeight: 11, verticalAlign: 'top' }
};
isotopes.forEach((iso, i) => {
  txt(367, rightTops[i] + 42, '{p|( }{s|' + iso + '}{p|Sn)}', { align: 'center', verticalAlign: 'middle', rich: ayRich }, { rotation: Math.PI / 2 });
});

// side caption
txt(737, 263, 'isotope', { fontFamily: SANS, fontSize: 30, align: 'left', verticalAlign: 'middle' });
txt(838, 271, 'Sn', { fontFamily: SANS, fontSize: 43, align: 'left', verticalAlign: 'middle' });

// bracket box at the bottom
graphic.push({ type: 'rect', silent: true, shape: { x: 326, y: 696, width: 37, height: 30 }, style: { fill: 'none', stroke: '#3b5b8c', lineWidth: 4 } });

chart.setOption({
  animation: false,
  backgroundColor: '#fff',
  grid: grids,
  xAxis: xAxes,
  yAxis: yAxes,
  series: series,
  graphic: graphic
});
</script>
</body>
</html>
